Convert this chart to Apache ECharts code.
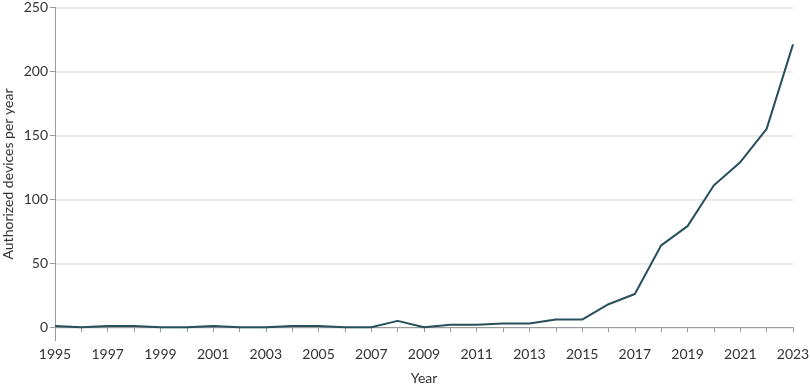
<!DOCTYPE html>
<html><head><meta charset="utf-8">
<script src="https://cdn.jsdelivr.net/npm/echarts@6/dist/echarts.min.js"></script>
<style>html,body{margin:0;padding:0;background:#fff}#c{width:810px;height:387px}</style>
</head><body><div id="c"></div>
<script>
const years = ['1995','1996','1997','1998','1999','2000','2001','2002','2003','2004','2005','2006','2007','2008','2009','2010','2011','2012','2013','2014','2015','2016','2017','2018','2019','2020','2021','2022','2023'];
const devices = [1,0,1,1,0,0,1,0,0,1,1,0,0,5,0,2,2,3,3,6,6,18,26,64,79,111,129,155,221];
const yTicks = [0,50,100,150,200,250];

const font = 'Lato, "Noto Sans", sans-serif';
const chart = echarts.init(document.getElementById('c'), null, {renderer:'canvas'});
chart.setOption({
  animation:false,
  grid:{left:55,right:17,top:7.3,bottom:46.3,containLabel:false,outerBoundsMode:'none'},
  xAxis:{
    type:'category', data:years, boundaryGap:false,
    name:'Year', nameLocation:'middle', nameGap:31, nameMoveOverlap:false,
    nameTextStyle:{color:'#333',fontSize:14,fontFamily:font},
    axisLine:{lineStyle:{color:'#9a9a9a',width:1}},
    axisTick:{show:true,interval:0,length:5,lineStyle:{color:'#9a9a9a'}},
    axisLabel:{interval:1,color:'#333',fontSize:14,fontFamily:font,margin:7},
    splitLine:{show:false}
  },
  yAxis:{
    type:'value', min:-10.5, max:250,
    name:'Authorized devices per year', nameLocation:'middle', nameGap:40, nameMoveOverlap:false,
    nameTextStyle:{color:'#333',fontSize:14,fontFamily:font},
    axisLine:{show:true,lineStyle:{color:'#9a9a9a',width:1}},
    axisTick:{show:true,length:5,customValues:yTicks,lineStyle:{color:'#9a9a9a'}},
    axisLabel:{customValues:yTicks,color:'#333',fontSize:14,fontFamily:font,margin:7},
    splitLine:{show:true,lineStyle:{color:'#e3e3e3',width:1.5}}
  },
  series:[{
    type:'line', data:devices, symbol:'none',
    lineStyle:{color:'#284f5c',width:2},
    itemStyle:{color:'#284f5c'}
  }]
});
</script></body></html>
